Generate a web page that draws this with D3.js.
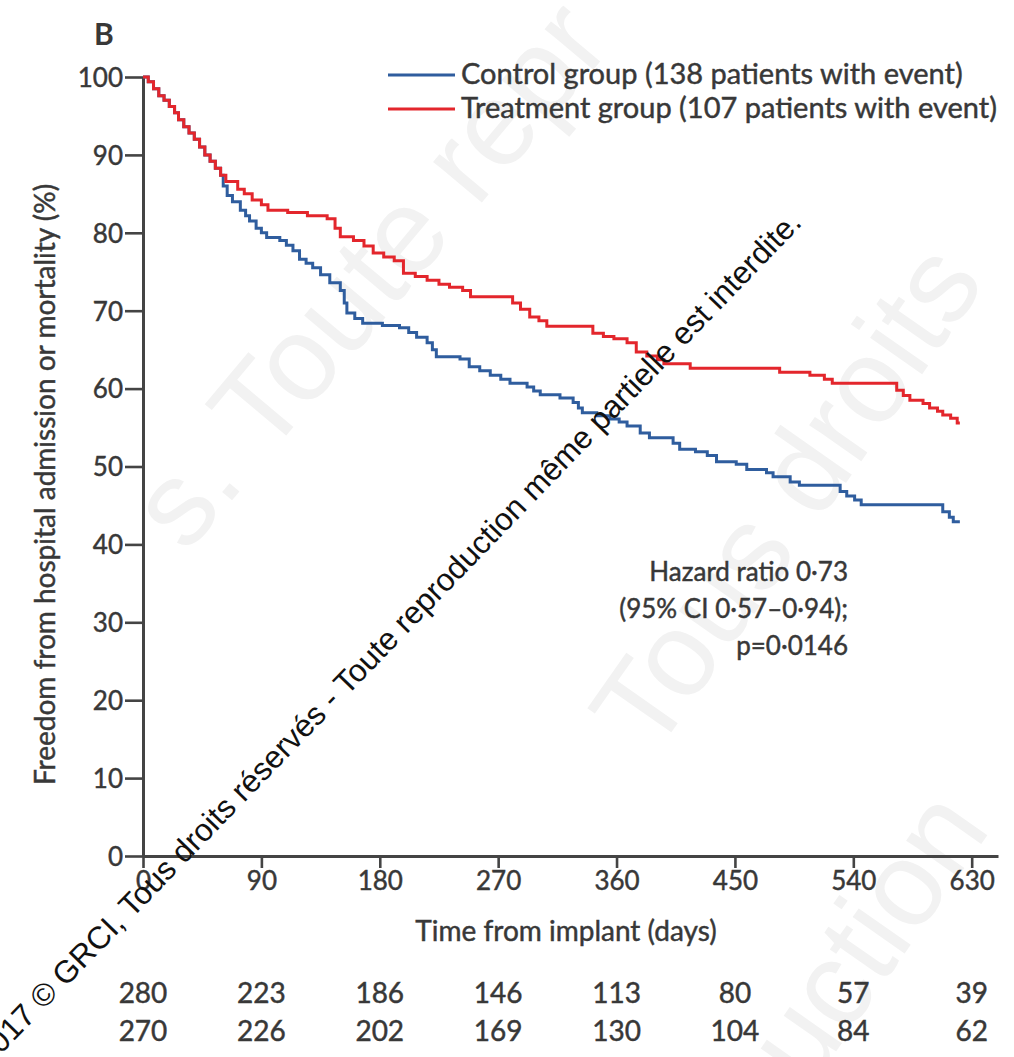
<!DOCTYPE html>
<html>
<head>
<meta charset="utf-8">
<script src="https://cdn.jsdelivr.net/npm/d3@7"></script>
<style>
  html, body { margin: 0; padding: 0; background: #fff; }
  svg { display: block; }
</style>
</head>
<body>
<svg id="chart" width="1014" height="1057"></svg>
<script>
// Kaplan–Meier step points: [day, % free from hospital admission or mortality]
const controlSteps = [
  [0,100],[4,99.4],[8,98.5],[12,97.6],[16,97.0],[20,96.2],[24,95.4],[27,94.5],[31,93.6],[35,92.8],
  [39,92.0],[43,91.0],[47,90.0],[51,89.2],[55,88.3],[59,87.4],
  [61,86.0],[64,84.8],[68,84.0],[74,82.9],[78,82.2],[81,81.5],[86,80.6],[90,80.0],[94,79.4],
  [104,79.0],[109,78.4],[114,77.7],[119,76.6],[124,76.1],[129,75.5],[135,74.6],[142,73.6],
  [150,72.6],[153,71.0],[155,69.7],[161,69.0],[167,68.4],[182,68.1],[195,67.8],[202,67.2],
  [208,66.6],[216,65.9],[220,65.0],[223,64.1],[241,63.8],[248,62.8],[256,62.3],[264,61.7],
  [272,61.2],[279,60.7],[292,60.2],[297,59.7],[302,59.2],[317,58.8],[327,58.2],[331,57.5],
  [334,56.9],[345,56.5],[355,56.1],[362,55.7],[368,55.2],[378,54.3],[385,53.7],[403,53.0],
  [408,52.2],[420,51.9],[429,51.4],[436,50.6],[451,50.3],[459,49.6],[474,49.2],[479,48.7],
  [492,48.0],[499,47.6],[530,46.8],[535,46.2],[541,45.7],[546,45.1],[608,44.2],[613,43.5],
  [616,42.9],[621,42.9]
];
const treatmentSteps = [
  [0,100],[4,99.4],[8,98.5],[12,97.6],[16,97.0],[20,96.2],[24,95.4],[27,94.5],[31,93.6],[35,92.8],
  [39,92.0],[43,91.0],[47,90.0],[51,89.2],[55,88.3],[59,87.4],
  [63,86.6],[72,85.6],[77,85.0],[83,84.2],[90,83.6],[95,82.9],[110,82.6],[125,82.2],[140,81.8],
  [146,80.6],[150,79.5],[160,79.0],[168,78.3],[175,77.4],[183,76.9],[191,76.4],[198,74.8],
  [207,74.4],[216,73.9],[225,73.4],[233,73.0],[243,72.6],[249,71.8],[281,71.0],[287,70.2],
  [294,69.2],[301,68.7],[307,68.0],[342,67.1],[350,66.7],[358,66.4],[368,65.9],[375,64.7],
  [383,64.2],[391,63.7],[396,63.2],[416,62.6],[484,62.1],[507,61.7],[518,61.2],[524,60.7],
  [573,59.8],[578,59.1],[583,58.5],[593,58.1],[598,57.5],[604,57.1],[608,56.6],[614,56.2],
  [619,55.6],[621,55.6]
];

const xTicks = [0, 90, 180, 270, 360, 450, 540, 630];
const yTicks = [0, 10, 20, 30, 40, 50, 60, 70, 80, 90, 100];
const atRiskControl = [280, 223, 186, 146, 113, 80, 57, 39];
const atRiskTreatment = [270, 226, 202, 169, 130, 104, 84, 62];

const legendLabels = [
  "Control group (138 patients with event)",
  "Treatment group (107 patients with event)"
];
const seriesColors = ["#2f5d9e", "#e3262c"];
const statLines = ["Hazard ratio 0·73", "(95% CI 0·57–0·94);", "p=0·0146"];

const FONT = "Lato, 'Open Sans', sans-serif";
const INK = "#383838";

const svg = d3.select("#chart");

// slightly heavier text weight than the regular face
function ink(sel, size) {
  return sel.attr("font-family", FONT).attr("font-size", size).attr("fill", INK)
    .attr("stroke", INK).attr("stroke-width", 0.45);
}

// faint background watermark
const bg = svg.append("g").attr("fill", "#f2f2f2").attr("font-family", "Liberation Sans, Arial, sans-serif")
  .attr("font-size", 120);
bg.append("text").attr("transform", "translate(400,300) rotate(-50)").attr("text-anchor", "middle")
  .text("s. Toute repr");
bg.append("text").attr("transform", "translate(820,520) rotate(-55)").attr("text-anchor", "middle")
  .text("Tous droits");
bg.append("text").attr("transform", "translate(900,960) rotate(-55)").attr("text-anchor", "middle")
  .text("uction");

const x = d3.scaleLinear().domain([0, 650]).range([143, 998]);
const y = d3.scaleLinear().domain([0, 100]).range([856, 77]);

// panel letter
svg.append("text").attr("x", 94).attr("y", 45).attr("font-family", FONT).attr("font-weight", 700)
  .attr("font-size", 30).attr("fill", INK).text("B");

// axes
const yAxis = d3.axisLeft(y).tickValues(yTicks).tickSize(18).tickSizeOuter(0).tickPadding(2);
const gy = svg.append("g").attr("transform", `translate(${x(0)},0)`).call(yAxis);
const xAxis = d3.axisBottom(x).tickValues(xTicks).tickSize(12).tickSizeOuter(0).tickPadding(4);
const gx = svg.append("g").attr("transform", `translate(0,${y(0)})`).call(xAxis);
[gx, gy].forEach(g => {
  g.select(".domain").attr("stroke", "#444").attr("stroke-width", 3);
  g.selectAll(".tick line").attr("stroke", "#444").attr("stroke-width", 2.6);
  ink(g.selectAll(".tick text"), 26);
});
gy.selectAll(".tick text").attr("dy", "0.36em");

// axis titles
ink(svg.append("text").attr("transform", `translate(55,${(y(0) + y(100)) / 2 + 18}) rotate(-90)`)
  .attr("text-anchor", "middle"), 28)
  .text("Freedom from hospital admission or mortality (%)");
ink(svg.append("text").attr("x", 566).attr("y", 941).attr("text-anchor", "middle"), 28)
  .text("Time from implant (days)");

// survival curves
const line = d3.line().x(d => x(d[0])).y(d => y(d[1])).curve(d3.curveStepAfter);
[controlSteps, treatmentSteps].forEach((s, i) => {
  svg.append("path").datum(s).attr("d", line).attr("fill", "none")
    .attr("stroke", seriesColors[i]).attr("stroke-width", 3).attr("stroke-linejoin", "miter");
});

// legend
legendLabels.forEach((t, i) => {
  const ly = 75 + i * 34;
  svg.append("line").attr("x1", 388).attr("x2", 455).attr("y1", ly).attr("y2", ly)
    .attr("stroke", seriesColors[i]).attr("stroke-width", 3);
  ink(svg.append("text").attr("x", 461).attr("y", ly + 9), 29).text(t);
});

// hazard ratio annotation
statLines.forEach((t, i) => {
  ink(svg.append("text").attr("x", 848).attr("y", 581 + i * 37).attr("text-anchor", "end"), 26).text(t);
});

// numbers at risk
[atRiskControl, atRiskTreatment].forEach((row, r) => {
  ink(svg.append("g").selectAll("text").data(row).join("text")
    .attr("x", (d, i) => x(xTicks[i]))
    .attr("y", 1003 + r * 38)
    .attr("text-anchor", "middle"), 28)
    .text(d => d);
});

// copyright overlay
svg.append("text").attr("transform", "translate(803,224) rotate(-46)")
  .attr("text-anchor", "end").attr("font-family", "Liberation Sans, Arial, sans-serif")
  .attr("font-size", 31.5).attr("fill", "#111")
  .text("2017 © GRCI, Tous droits réservés - Toute reproduction même partielle est interdite.");
</script>
</body>
</html>
